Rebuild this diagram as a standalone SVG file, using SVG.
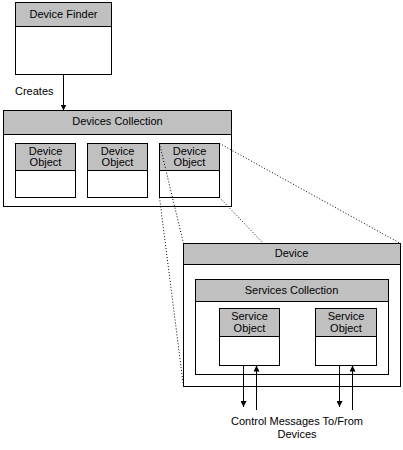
<svg xmlns="http://www.w3.org/2000/svg" width="403" height="450" viewBox="0 0 403 450">
<defs>
<style>
.box{fill:#fff;stroke:#000;stroke-width:1}
.hdr{fill:#c0c0c0;stroke:#000;stroke-width:1}
.t{font-family:"Liberation Sans",Arial,sans-serif;font-size:11px;fill:#000;text-anchor:middle}
.ln{stroke:#000;stroke-width:1;fill:none}
.dot{stroke:#000;stroke-width:1;fill:none;stroke-dasharray:1 2}
</style>
<marker id="ah" markerUnits="userSpaceOnUse" markerWidth="6" markerHeight="6" refX="6" refY="3" orient="auto">
<path d="M0,0 L6,3 L0,6 z" fill="#000"/>
</marker>
</defs>
<rect width="403" height="450" fill="#fff"/>

<g id="device-finder">
<rect class="box" x="15.5" y="2.5" width="96" height="72"/>
<rect class="hdr" x="15.5" y="2.5" width="96" height="24"/>
<text class="t" x="63.5" y="18">Device Finder</text>
</g>

<g id="devices-collection">
<rect class="box" x="3.5" y="110.5" width="228" height="96"/>
<rect class="hdr" x="3.5" y="110.5" width="228" height="24"/>
<text class="t" x="117.5" y="124.5">Devices Collection</text>
</g>

<g id="device-object-1">
<rect class="box" x="15.5" y="143.5" width="60" height="54"/>
<rect class="hdr" x="15.5" y="143.5" width="60" height="27"/>
<text class="t" x="45.5" y="155">Device</text>
<text class="t" x="45.5" y="166">Object</text>
</g>
<g id="device-object-2">
<rect class="box" x="87.5" y="143.5" width="60" height="54"/>
<rect class="hdr" x="87.5" y="143.5" width="60" height="27"/>
<text class="t" x="117.5" y="155">Device</text>
<text class="t" x="117.5" y="166">Object</text>
</g>
<g id="device-object-3">
<rect class="box" x="159.5" y="143.5" width="60" height="54"/>
<rect class="hdr" x="159.5" y="143.5" width="60" height="27"/>
<text class="t" x="189.5" y="155">Device</text>
<text class="t" x="189.5" y="166">Object</text>
</g>

<g id="connectors">
<line class="ln" x1="63.5" y1="74.5" x2="63.5" y2="110.5" marker-end="url(#ah)"/>
<text class="t" x="15" y="94.5" style="text-anchor:start">Creates</text>
<line class="dot" x1="159.5" y1="143.5" x2="183.5" y2="243.5"/>
<line class="dot" x1="159.5" y1="197.5" x2="183.5" y2="386.5"/>
<line class="dot" x1="219.5" y1="143.5" x2="400.5" y2="243.5"/>
<line class="dot" x1="219.5" y1="197.5" x2="400.5" y2="386.5"/>
</g>

<g id="device">
<rect class="box" x="183.5" y="243.5" width="217" height="143"/>
<rect class="hdr" x="183.5" y="243.5" width="217" height="21"/>
<text class="t" x="291.5" y="256.5">Device</text>
</g>

<g id="services-collection">
<rect class="box" x="195.5" y="279.5" width="193" height="95"/>
<rect class="hdr" x="195.5" y="279.5" width="193" height="22"/>
<text class="t" x="291.5" y="293.5">Services Collection</text>
</g>

<g id="service-object-1">
<rect class="box" x="219.5" y="308.5" width="60" height="57"/>
<rect class="hdr" x="219.5" y="308.5" width="60" height="28"/>
<text class="t" x="249.5" y="320">Service</text>
<text class="t" x="249.5" y="332">Object</text>
</g>
<g id="service-object-2">
<rect class="box" x="315.5" y="308.5" width="61" height="57"/>
<rect class="hdr" x="315.5" y="308.5" width="61" height="28"/>
<text class="t" x="346" y="320">Service</text>
<text class="t" x="346" y="332">Object</text>
</g>

<g id="message-connectors">
<line class="ln" x1="243.5" y1="365.5" x2="243.5" y2="407" marker-end="url(#ah)"/>
<line class="ln" x1="256.5" y1="410" x2="256.5" y2="365.5" marker-end="url(#ah)"/>
<line class="ln" x1="339.5" y1="365.5" x2="339.5" y2="407" marker-end="url(#ah)"/>
<line class="ln" x1="352.5" y1="410" x2="352.5" y2="365.5" marker-end="url(#ah)"/>
</g>

<g id="label-control-messages">
<text class="t" x="297" y="424.5">Control Messages To/From</text>
<text class="t" x="297" y="437.5">Devices</text>
</g>
</svg>
